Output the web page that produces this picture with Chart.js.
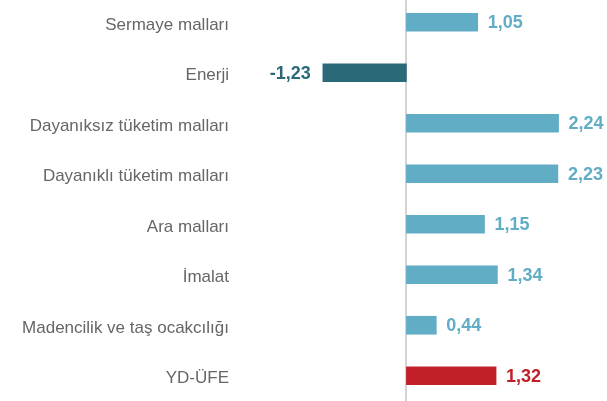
<!DOCTYPE html>
<html>
<head>
<meta charset="utf-8">
<script src="https://cdn.jsdelivr.net/npm/chart.js@4/dist/chart.umd.min.js"></script>
<style>
  html, body { margin: 0; padding: 0; background: #fff; overflow: hidden; }
  #wrap { position: absolute; left: 0; top: -3px; width: 607px; height: 404px; }
</style>
</head>
<body>
<div id="wrap"><canvas id="c"></canvas></div>
<script>
const categories = [
  "Sermaye malları",
  "Enerji",
  "Dayanıksız tüketim malları",
  "Dayanıklı tüketim malları",
  "Ara malları",
  "İmalat",
  "Madencilik ve taş ocakcılığı",
  "YD-ÜFE"
];
const values = [1.05, -1.23, 2.24, 2.23, 1.15, 1.34, 0.44, 1.32];
const highlightCategory = "YD-ÜFE";

const COLOR_POS = "#61adc5";
const COLOR_NEG = "#2a6a78";
const COLOR_HL = "#c12028";

function barColor(i) {
  if (categories[i] === highlightCategory) return COLOR_HL;
  return values[i] < 0 ? COLOR_NEG : COLOR_POS;
}

const valueLabels = {
  id: "valueLabels",
  afterDatasetsDraw(chart) {
    const ctx = chart.ctx;
    const meta = chart.getDatasetMeta(0);
    ctx.save();
    ctx.font = "bold 18px 'Liberation Sans', Arial, sans-serif";
    ctx.textBaseline = "middle";
    meta.data.forEach((bar, i) => {
      const v = values[i];
      const txt = v.toFixed(2).replace(".", ",");
      ctx.fillStyle = barColor(i);
      if (v < 0) {
        ctx.textAlign = "right";
        ctx.fillText(txt, bar.x - 12, bar.y + 1);
      } else {
        ctx.textAlign = "left";
        ctx.fillText(txt, bar.x + 10, bar.y + 1);
      }
    });
    ctx.restore();
  }
};

new Chart(document.getElementById("c"), {
  type: "bar",
  data: {
    labels: categories,
    datasets: [{
      data: values,
      backgroundColor: values.map((_, i) => barColor(i)),
      borderWidth: 0,
      barThickness: 18
    }]
  },
  options: {
    indexAxis: "y",
    responsive: true,
    maintainAspectRatio: false,
    animation: false,
    layout: { padding: { top: 0, bottom: 0, left: 0, right: 7 } },
    plugins: { legend: { display: false }, tooltip: { enabled: false } },
    scales: {
      x: {
        min: -2.45,
        max: 2.85,
        border: { display: false },
        ticks: { display: false, stepSize: 0.05 },
        grid: {
          drawTicks: false,
          color: (c) => (c.tick && Math.abs(c.tick.value) < 1e-9) ? "#d4d4d4" : "rgba(0,0,0,0)",
          lineWidth: 2
        },
        afterFit: (s) => { s.height = 0; s.paddingLeft = 0; s.paddingRight = 0; s.paddingTop = 0; s.paddingBottom = 0; }
      },
      y: {
        border: { display: false },
        grid: { display: false, drawTicks: false },
        ticks: {
          padding: 11,
          labelOffset: 3,
          color: "#666666",
          font: { family: "'Liberation Sans', Arial, sans-serif", size: 17 }
        },
        afterFit: (s) => { s.width = 240; s.paddingTop = 0; s.paddingBottom = 0; }
      }
    }
  },
  plugins: [valueLabels]
});
</script>
</body>
</html>
